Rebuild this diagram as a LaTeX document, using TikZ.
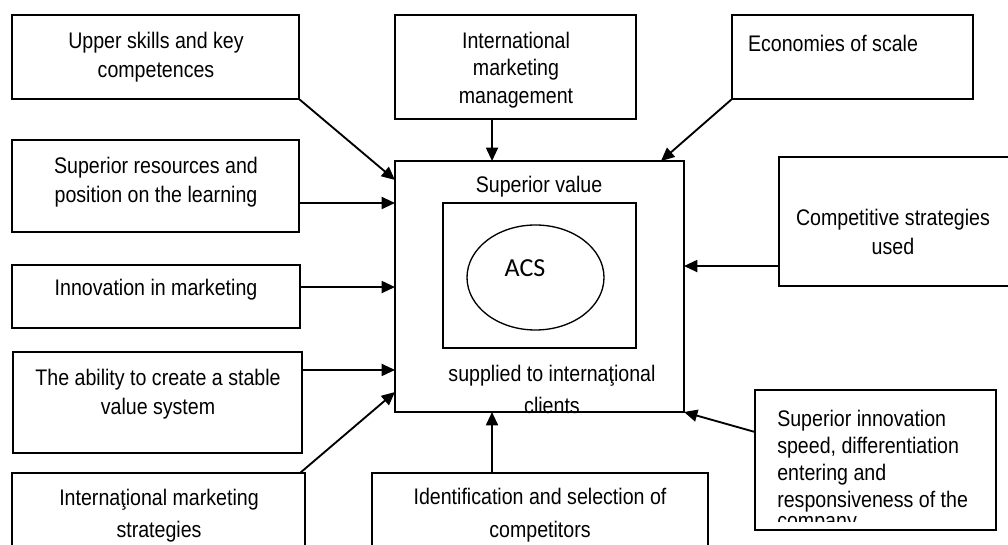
\documentclass[tikz,border=0pt]{standalone}
\usepackage{fontspec}
\setmainfont{Liberation Sans}[FakeStretch=0.87]
\newfontfamily\acsfont{Carlito}
\usetikzlibrary{arrows.meta,calc,shapes.geometric}
\begin{document}
\begin{tikzpicture}[x=0.75pt,y=-0.75pt,
  box/.style={draw, line width=1.4pt, inner sep=0pt, outer sep=0pt, anchor=north west},
  txt/.style={align=center, inner sep=0pt, font=\fontsize{16.9pt}{21.75pt}\selectfont},
  arr/.style={line width=1.4pt, -{Triangle[length=10pt,width=9pt]}}]
\useasboundingbox (0,0) rectangle (1008,545);
\clip (0,0) rectangle (1008,545);
% boxes
\node[box, minimum width=215.25pt, minimum height=63pt]    (b1)   at (12,15)  {};
\node[box, minimum width=215.25pt, minimum height=69pt]    (b2)   at (12,140) {};
\node[box, minimum width=216pt,    minimum height=47.25pt] (b3)   at (12,265) {};
\node[box, minimum width=216.75pt, minimum height=75.75pt] (b4)   at (13,352) {};
\node[box, minimum width=219.75pt, minimum height=95.25pt] (b5)   at (12,473) {};
\node[box, minimum width=180.75pt, minimum height=78pt]    (m1)   at (395,15) {};
\node[box, minimum width=180.75pt, minimum height=63pt]    (es)   at (732,15) {};
\node[box, minimum width=188.25pt, minimum height=96.75pt] (cs)   at (779,157) {};
\node[box, minimum width=180.75pt, minimum height=105pt]   (si)   at (755,390) {};
\node[box, minimum width=252pt,    minimum height=95.25pt] (id)   at (372,473) {};
\node[box, minimum width=216.75pt, minimum height=188.25pt] (main) at (395,161) {};
\node[box, minimum width=144.75pt, minimum height=108.75pt] (inner) at (443,203) {};
\node[draw, ellipse, line width=1pt, inner sep=0pt, minimum width=102.75pt, minimum height=78.75pt] (acs) at (535.5,277.5) {};
% texts
\node[txt] (t1) at (156,57)  {Upper skills and key\\competences};
\node[txt] (t2) at (156,182) {Superior resources and\\position on the learning};
\node[txt] (t3) at (156,290) {Innovation in marketing};
\node[txt] (t4) at (158,394) {The ability to create a stable\\value system};
\node[txt, font=\fontsize{16.9pt}{24pt}\selectfont] (t5) at (159,516) {Internaţional marketing\\strategies};
\node[txt, font=\fontsize{16.9pt}{20.5pt}\selectfont] (t6) at (516,70) {International\\marketing\\management};
\node[txt] (t7) at (833,43)  {Economies of scale};
\node[txt] (t8) at (893,232) {Competitive strategies\\used};
\node[txt, font=\fontsize{16.9pt}{25pt}\selectfont] (t9) at (540,515) {Identification and selection of\\competitors};
\node[txt] (t10) at (539,187) {Superior value};
\node[txt, font=\fontsize{16.9pt}{24pt}\selectfont] (t11) at (552,389) {supplied to internaţional\\clients};
\node[inner sep=0pt, font=\acsfont\fontsize{19.5pt}{23pt}\selectfont] (t12) at (525,268) {ACS};
\begin{scope}
\clip (755,390) rectangle (996,522);
\node[txt, align=left, anchor=north west, font=\fontsize{16.9pt}{20.25pt}\selectfont] (t13) at (777,409.5)
  {Superior innovation\\speed, differentiation\\entering and\\responsiveness of the\\[-4.5pt]company};
\end{scope}
% connectors
\draw[arr] (b1.south east) -- ([yshift=-14.25pt]main.north west);
\draw[arr] ([yshift=-12.75pt]b2.east) coordinate (a2) -- (a2 -| main.west);
\draw[arr] ([yshift=7.1pt]b3.east) coordinate (a3) -- (a3 -| main.west);
\draw[arr] ([yshift=24.4pt]b4.east) coordinate (a4) -- (a4 -| main.west);
\draw[arr] ([xshift=-3.75pt]b5.north east) -- ([yshift=15pt]main.south west);
\draw[arr] ([xshift=-17.6pt]m1.south) coordinate (a6) -- (a6 |- main.north);
\draw[arr] (es.south west) -- ([xshift=-17.25pt]main.north east);
\draw[arr] ([yshift=-33.4pt]cs.west) coordinate (a8) -- (a8 -| main.east);
\draw[arr] ([yshift=21pt]si.west) -- (main.south east);
\draw[arr] ([xshift=-36pt]id.north) coordinate (a10) -- (a10 |- main.south);
\end{tikzpicture}
\end{document}
